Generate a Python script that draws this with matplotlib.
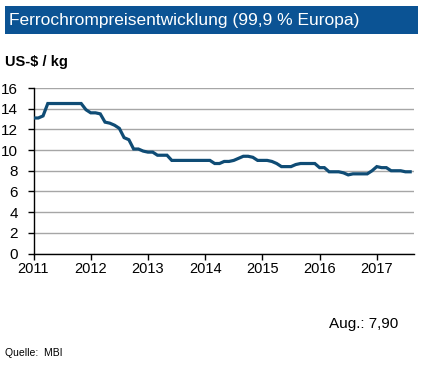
import matplotlib
matplotlib.use("Agg")
import matplotlib.pyplot as plt
from matplotlib.patches import Rectangle

plt.rcParams['font.family'] = ['Liberation Sans', 'DejaVu Sans']

title = "Ferrochrompreisentwicklung (99,9 % Europa)"
unit_label = "US-$ / kg"
note = "Aug.: 7,90"
source = "Quelle:  MBI"

years = [2011, 2012, 2013, 2014, 2015, 2016, 2017]
y_ticks = [0, 2, 4, 6, 8, 10, 12, 14, 16]

# monthly prices Jan 2011 .. Aug 2017
p2011 = [13.1, 13.1, 13.3, 14.5, 14.5, 14.5, 14.5, 14.5, 14.5, 14.5, 14.5, 13.9]
p2012 = [13.6, 13.6, 13.5, 12.7, 12.6, 12.4, 12.1, 11.2, 11.0, 10.1, 10.1, 9.9]
p2013 = [9.8, 9.8, 9.5, 9.5, 9.5, 9.0, 9.0, 9.0, 9.0, 9.0, 9.0, 9.0]
p2014 = [9.0, 9.0, 8.7, 8.7, 8.9, 8.9, 9.0, 9.2, 9.4, 9.4, 9.3, 9.0]
p2015 = [9.0, 9.0, 8.9, 8.7, 8.4, 8.4, 8.4, 8.6, 8.7, 8.7, 8.7, 8.7]
p2016 = [8.3, 8.3, 7.9, 7.9, 7.9, 7.8, 7.6, 7.7, 7.7, 7.7, 7.7, 8.0]
p2017 = [8.4, 8.3, 8.3, 8.0, 8.0, 8.0, 7.9, 7.9]

prices = p2011 + p2012 + p2013 + p2014 + p2015 + p2016 + p2017
x = [2011 + i / 12 for i in range(len(prices))]

W, H = 426, 369
fig = plt.figure(figsize=(W / 100, H / 100), dpi=100)
fig.patch.set_facecolor('white')

# title bar
fig.patches.append(Rectangle((5 / W, 1 - 34 / H), 413 / W, 28 / H,
                             transform=fig.transFigure, facecolor='#0b5394',
                             edgecolor='none', zorder=0))
fig.text(9 / W, 1 - 20 / H, title, color='white', fontsize=12.5,
         va='center', ha='left')
fig.text(5 / W, 1 - 62 / H, unit_label, color='black', fontsize=10.5,
         fontweight='bold', va='center', ha='left')
fig.text(398 / W, 1 - 324 / H, note, color='black', fontsize=11,
         va='center', ha='right')
fig.text(5 / W, 1 - 353 / H, source, color='black', fontsize=7.5,
         va='center', ha='left')

ax = fig.add_axes([33.5 / W, 1 - 253.5 / H, (414 - 33.5) / W, (253.5 - 88) / H])
ax.plot(x, prices, color='#0f4c75', lw=2.3, solid_joinstyle='miter', zorder=3)

ax.set_xlim(2011, 2017.65)
ax.set_ylim(0, 16)
ax.set_yticks(y_ticks)
ax.set_xticks(years)
ax.set_xticklabels([str(y) for y in years])
ax.yaxis.grid(True, color='#a6a6a6', lw=1)
ax.set_axisbelow(True)
for s in ['top', 'right']:
    ax.spines[s].set_visible(False)
for s in ['left', 'bottom']:
    ax.spines[s].set_color('black')
    ax.spines[s].set_linewidth(1)
ax.tick_params(axis='both', direction='out', length=4, width=1, labelsize=10.5,
               colors='black')
ax.tick_params(axis='y', labelsize=11, pad=7)
ax.tick_params(axis='x', pad=2)

fig.savefig('out.png', dpi=100)
